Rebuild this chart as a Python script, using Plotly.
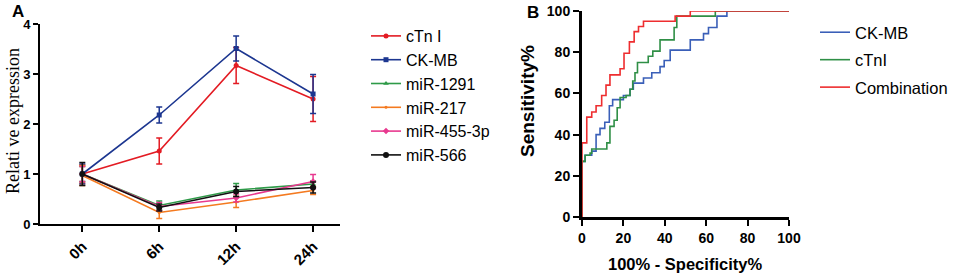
import plotly.graph_objects as go

# ---------------- Panel A data ----------------
time_labels = ["0h", "6h", "12h", "24h"]

ctni_mean = [1.00, 1.46, 3.17, 2.50]
ctni_err = [0.18, 0.26, 0.36, 0.45]
ckmb_mean = [1.00, 2.18, 3.51, 2.60]
ckmb_err = [0.20, 0.16, 0.25, 0.39]
mir1291_mean = [1.00, 0.37, 0.68, 0.80]
mir1291_err = [0.15, 0.09, 0.13, 0.06]
mir217_mean = [0.97, 0.23, 0.44, 0.67]
mir217_err = [0.20, 0.12, 0.11, 0.08]
mir455_mean = [1.00, 0.35, 0.52, 0.85]
mir455_err = [0.15, 0.08, 0.08, 0.14]
mir566_mean = [1.00, 0.33, 0.65, 0.73]
mir566_err = [0.23, 0.07, 0.10, 0.11]

# ---------------- Panel B data (ROC step points) ----------------
comb_fpr = [0, 0, 2.3, 4.7, 6.8, 9.5, 11.6, 13.5, 18.4, 20.3, 22.9, 25.2, 27.3, 29.7, 45.0, 52.3, 100]
comb_tpr = [0, 36, 48.5, 51, 54, 59, 64, 69, 72, 79.5, 85, 90, 92.5, 95, 97.5, 100, 100]

ctni_fpr = [0, 0, 1.5, 3.9, 4.7, 12.0, 13.5, 15.5, 17.0, 18.4, 21.3, 23.2, 24.5, 25.6, 26.8, 32.0, 34.2, 37.7, 44.5, 45.8, 64.4, 100]
ctni_tpr = [0, 27, 30, 31, 33, 36, 44, 47, 53, 58, 59, 62, 66, 70, 75, 78, 80.5, 86, 92, 97.5, 100, 100]

ckmb_fpr = [0, 0, 1.5, 4.7, 6.8, 8.7, 11.0, 13.2, 14.8, 20.0, 23.2, 24.8, 29.7, 33.7, 37.7, 39.7, 42.6, 52.3, 58.7, 61.1, 65.2, 70.0, 100]
ckmb_tpr = [0, 27, 30, 32, 40, 43, 46, 54, 57, 59, 62, 65, 67.5, 70, 73, 76, 81, 86, 89, 92, 97.5, 100, 100]

fig = go.Figure()

series_a = [
    ("cTn I", ctni_mean, ctni_err, "#e31b23", "circle", 5),
    ("CK-MB", ckmb_mean, ckmb_err, "#1c3690", "square", 5),
    ("miR-1291", mir1291_mean, mir1291_err, "#2e9a48", "triangle-up", 5),
    ("miR-217", mir217_mean, mir217_err, "#f47a20", "circle", 3),
    ("miR-455-3p", mir455_mean, mir455_err, "#e8398f", "diamond", 5),
    ("miR-566", mir566_mean, mir566_err, "#111111", "circle", 6),
]
for i, (name, m, e, c, sym, sz) in enumerate(series_a):
    fig.add_trace(go.Scatter(
        x=time_labels, y=m, name=name, mode="lines+markers",
        line=dict(color=c, width=1.6),
        marker=dict(symbol=sym, size=sz, color=c),
        error_y=dict(type="data", array=e, visible=True, color=c, thickness=1.5, width=3),
        xaxis="x", yaxis="y", legend="legend", legendgroup="a%d" % i,
    ))

series_b = [
    ("CK-MB", ckmb_fpr, ckmb_tpr, "#3a5fb8"),
    ("cTnI", ctni_fpr, ctni_tpr, "#2f8f46"),
    ("Combination", comb_fpr, comb_tpr, "#ee2d2f"),
]
for i, (name, xs, ys, c) in enumerate(series_b):
    fig.add_trace(go.Scatter(
        x=xs, y=ys, name=name, mode="lines", line=dict(color=c, width=1.6, shape="hv"),
        xaxis="x2", yaxis="y2", legend="legend2", legendgroup="b%d" % i,
    ))

W, H = 957, 278
def px_x(p):
    return p / W
def px_y(p):
    return 1 - p / H

def bold(size):
    return dict(family="Liberation Sans, Arial", size=size, color="black", weight="bold")

fig.update_layout(
    width=W, height=H, margin=dict(l=0, r=0, t=0, b=0, autoexpand=False),
    paper_bgcolor="white", plot_bgcolor="white",
    xaxis=dict(domain=[px_x(40), px_x(340)], type="category", range=[-0.55, 3.35],
               showline=True, linecolor="black", linewidth=2, ticks="outside", ticklen=6,
               tickwidth=2, tickcolor="black", tickangle=-45, tickfont=bold(15),
               showgrid=False, zeroline=False, anchor="y", automargin=False),
    yaxis=dict(domain=[px_y(224), px_y(24)], range=[0, 4], tickvals=[0, 1, 2, 3, 4],
               showline=True, linecolor="black", linewidth=2, ticks="outside", ticklen=5,
               tickwidth=2, tickcolor="black", tickfont=bold(13),
               showgrid=False, zeroline=False, anchor="x", automargin=False),
    xaxis2=dict(domain=[px_x(582), px_x(789)], range=[0, 100], tickvals=[0, 20, 40, 60, 80, 100],
                showline=True, linecolor="black", linewidth=3, ticks="outside", ticklen=6,
                tickwidth=2, tickcolor="black", tickfont=bold(14),
                showgrid=False, zeroline=False, anchor="y2", automargin=False),
    yaxis2=dict(domain=[px_y(217), px_y(11)], range=[0, 100], tickvals=[0, 20, 40, 60, 80, 100],
                showline=True, linecolor="black", linewidth=3, ticks="outside", ticklen=6,
                tickwidth=2, tickcolor="black", tickfont=bold(14),
                showgrid=False, zeroline=False, anchor="x2", automargin=False),
    legend=dict(x=px_x(366), y=px_y(19), xanchor="left", yanchor="top",
                font=dict(family="Liberation Sans, Arial", size=16, color="black"),
                bgcolor="rgba(0,0,0,0)", tracegroupgap=0, itemwidth=30),
    legend2=dict(x=px_x(815), y=px_y(15), xanchor="left", yanchor="top",
                 font=dict(family="Liberation Sans, Arial", size=16.5, color="black"),
                 bgcolor="rgba(0,0,0,0)", tracegroupgap=3, itemwidth=30),
    showlegend=True,
    annotations=[
        dict(text="<b>A</b>", x=px_x(10), y=px_y(0), xref="paper", yref="paper",
             xanchor="left", yanchor="top", showarrow=False, font=bold(17)),
        dict(text="<b>B</b>", x=px_x(525), y=px_y(1), xref="paper", yref="paper",
             xanchor="left", yanchor="top", showarrow=False, font=bold(17)),
        dict(text="Relati ve expression", x=px_x(13), y=px_y(121), xref="paper", yref="paper",
             xanchor="center", yanchor="middle", textangle=-90, showarrow=False,
             font=dict(family="Liberation Serif, Times New Roman", size=18, color="black")),
        dict(text="Sensitivity%", x=px_x(528), y=px_y(101), xref="paper", yref="paper",
             xanchor="center", yanchor="middle", textangle=-90, showarrow=False, font=bold(19)),
        dict(text="100% - Specificity%", x=px_x(685), y=px_y(264), xref="paper", yref="paper",
             xanchor="center", yanchor="middle", showarrow=False, font=bold(16.5)),
    ],
)

fig.write_html("out.html", config={"displayModeBar": False},
               post_script="document.body.style.margin='0px';document.body.style.padding='0px';")
